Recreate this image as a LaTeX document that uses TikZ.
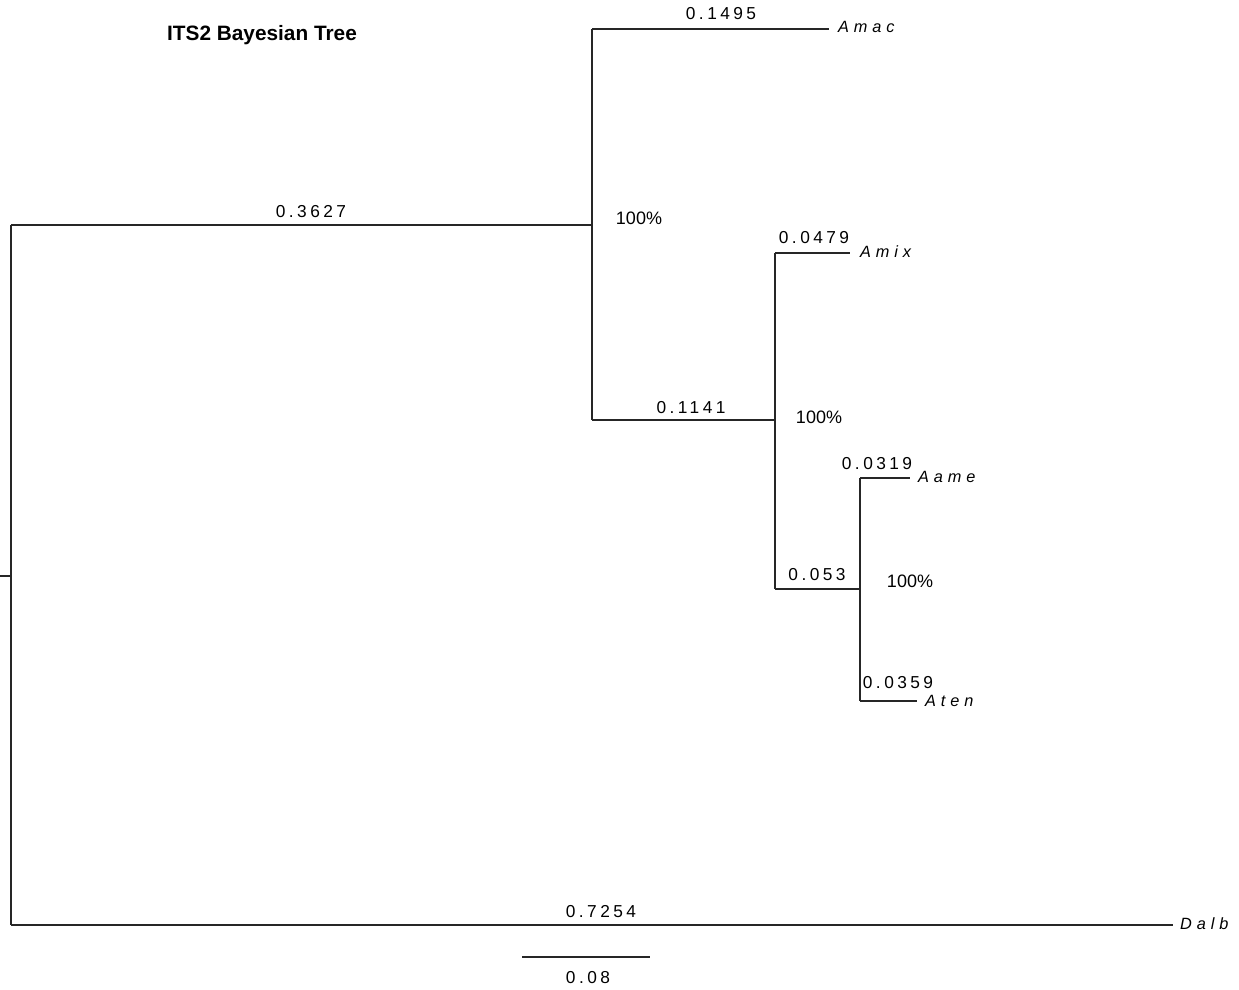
\documentclass[tikz,border=0pt]{standalone}
\usepackage{fontspec}
\setmainfont{Liberation Sans}
\newfontfamily\numfont[LetterSpace=20]{Liberation Sans}
\newfontfamily\leaffont[LetterSpace=30,ItalicFont={Liberation Sans Italic}]{Liberation Sans}
\begin{document}
\begin{tikzpicture}[x=1pt,y=-1pt,
  branch/.style={line width=1.6pt,draw=black!85},
  blen/.style={anchor=base,inner sep=0pt,font=\numfont\fontsize{17.3}{20}\selectfont},
  leaf/.style={anchor=base west,inner sep=0pt,font=\leaffont\itshape\fontsize{16.3}{20}\selectfont},
  supp/.style={anchor=base,inner sep=0pt,font=\fontsize{18}{22}\selectfont}]
\useasboundingbox (0,0) rectangle (1239,990);
% coordinates
\coordinate (stub) at (0,576);
\coordinate (root) at (11,576);
\coordinate (rt) at (11,225);
\coordinate (rb) at (11,925);
\coordinate (n1) at (592,225);
\coordinate (n1t) at (592,29);
\coordinate (n1b) at (592,420);
\coordinate (tmac) at (829,29);
\coordinate (n2) at (775,420);
\coordinate (n2t) at (775,253);
\coordinate (n2b) at (775,589);
\coordinate (tmix) at (850,253);
\coordinate (n3) at (860,589);
\coordinate (n3t) at (860,478);
\coordinate (n3b) at (860,701);
\coordinate (tame) at (910,478);
\coordinate (tten) at (917,701);
\coordinate (tdalb) at (1173,925);
\coordinate (sb1) at (522,957);
\coordinate (sb2) at (650,957);
% branches
\draw[branch] (stub) -- (root);
\draw[branch] (rt) -- (rb);
\draw[branch] (rt) -- (n1);
\draw[branch] (n1t) -- (n1b);
\draw[branch] (n1t) -- (tmac);
\draw[branch] (n1b) -- (n2);
\draw[branch] (n2t) -- (n2b);
\draw[branch] (n2t) -- (tmix);
\draw[branch] (n2b) -- (n3);
\draw[branch] (n3t) -- (n3b);
\draw[branch] (n3t) -- (tame);
\draw[branch] (n3b) -- (tten);
\draw[branch] (rb) -- (tdalb);
\draw[branch] (sb1) -- (sb2);
% leaf labels
\node[leaf] (lmac) at (838,33) {Amac};
\node[leaf] (lmix) at (860,257) {Amix};
\node[leaf] (lame) at (918,482) {Aame};
\node[leaf] (lten) at (925,706) {Aten};
\node[leaf] (ldalb) at (1180,929) {Dalb};
% branch lengths
\node[blen] (b1) at (311,217) {0.3627};
\node[blen] (b2) at (721,20) {0.1495};
\node[blen] (b3) at (691,413) {0.1141};
\node[blen] (b4) at (814,243) {0.0479};
\node[blen] (b5) at (817,580) {0.053};
\node[blen] (b6) at (877,469) {0.0319};
\node[blen] (b7) at (898,688) {0.0359};
\node[blen] (b8) at (601,917) {0.7254};
\node[blen] (b9) at (588,983) {0.08};
% support
\node[supp] (s1) at (639,224) {100\%};
\node[supp] (s2) at (819,423) {100\%};
\node[supp] (s3) at (910,587) {100\%};
% title
\node[anchor=base west,inner sep=0pt,font=\bfseries\fontsize{20.8}{24}\selectfont] (title) at (167,41) {ITS2 Bayesian Tree};
\end{tikzpicture}
\end{document}
